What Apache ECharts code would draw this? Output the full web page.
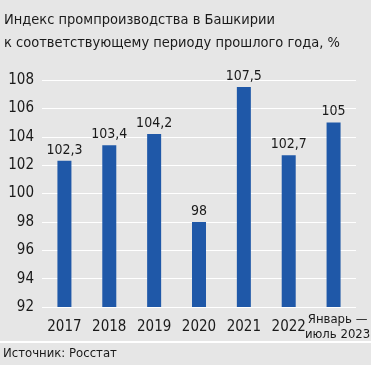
<!DOCTYPE html>
<html>
<head>
<meta charset="utf-8">
<script src="https://cdn.jsdelivr.net/npm/echarts@6/dist/echarts.min.js"></script>
<style>
html, body { margin: 0; padding: 0; background: #e6e6e6; }
#chart { width: 371px; height: 365px; }
</style>
</head>
<body>
<div id="chart"></div>
<script>
var categories = ['2017', '2018', '2019', '2020', '2021', '2022', 'Январь —\nиюль 2023'];
var values = [102.3, 103.4, 104.2, 98, 107.5, 102.7, 105];
var yTicks = [92, 94, 96, 98, 100, 102, 104, 106, 108];

var FONT = '"DejaVu Sans Condensed", "Roboto Condensed", Roboto, sans-serif';

var chart = echarts.init(document.getElementById('chart'));

// last category is a two-line label, set a bit smaller and pushed right
var catData = categories.map(function (c, i) {
    if (i === categories.length - 1) {
        return {
            value: c,
            textStyle: {
                fontSize: 13,
                lineHeight: 15,
                verticalAlign: 'middle',
                padding: [0, 0, 0, 8]
            }
        };
    }
    return c;
});

var option = {
    backgroundColor: '#e6e6e6',
    animation: false,
    textStyle: { fontFamily: FONT },
    graphic: [
        {
            type: 'text',
            left: 4,
            top: 9,
            style: {
                text: 'Индекс промпроизводства в Башкирии\nк соответствующему периоду прошлого года, %',
                font: '14.5px ' + FONT,
                lineHeight: 23,
                fill: '#1a1a1a'
            }
        },
        {
            type: 'rect',
            left: 0,
            top: 341,
            shape: { width: 371, height: 2 },
            style: { fill: '#ffffff' }
        },
        {
            type: 'text',
            left: 3,
            top: 347,
            style: {
                text: 'Источник: Росстат',
                font: '13px ' + FONT,
                fill: '#1a1a1a'
            }
        }
    ],
    grid: {
        left: 42,
        right: 15,
        top: 80,
        bottom: 58,
        outerBoundsMode: 'none'
    },
    xAxis: {
        type: 'category',
        data: catData,
        axisLine: { show: false },
        axisTick: { show: false },
        axisLabel: {
            interval: 0,
            hideOverlap: false,
            color: '#1a1a1a',
            fontFamily: FONT,
            fontSize: 15,
            lineHeight: 15,
            verticalAlign: 'middle',
            margin: 20
        }
    },
    yAxis: {
        type: 'value',
        min: yTicks[0],
        max: yTicks[yTicks.length - 1],
        interval: 2,
        axisLine: { show: false },
        axisTick: { show: false },
        axisLabel: {
            color: '#1a1a1a',
            fontFamily: FONT,
            fontSize: 15,
            margin: 8
        },
        splitLine: {
            lineStyle: { color: '#ffffff', width: 1 }
        }
    },
    series: [
        {
            type: 'bar',
            data: values,
            barWidth: 14,
            itemStyle: { color: '#1f58a8' },
            label: {
                show: true,
                position: 'top',
                distance: 4,
                color: '#1a1a1a',
                fontFamily: FONT,
                fontSize: 14,
                formatter: function (p) {
                    return String(p.value).replace('.', ',');
                }
            }
        }
    ]
};

chart.setOption(option);
</script>
</body>
</html>
